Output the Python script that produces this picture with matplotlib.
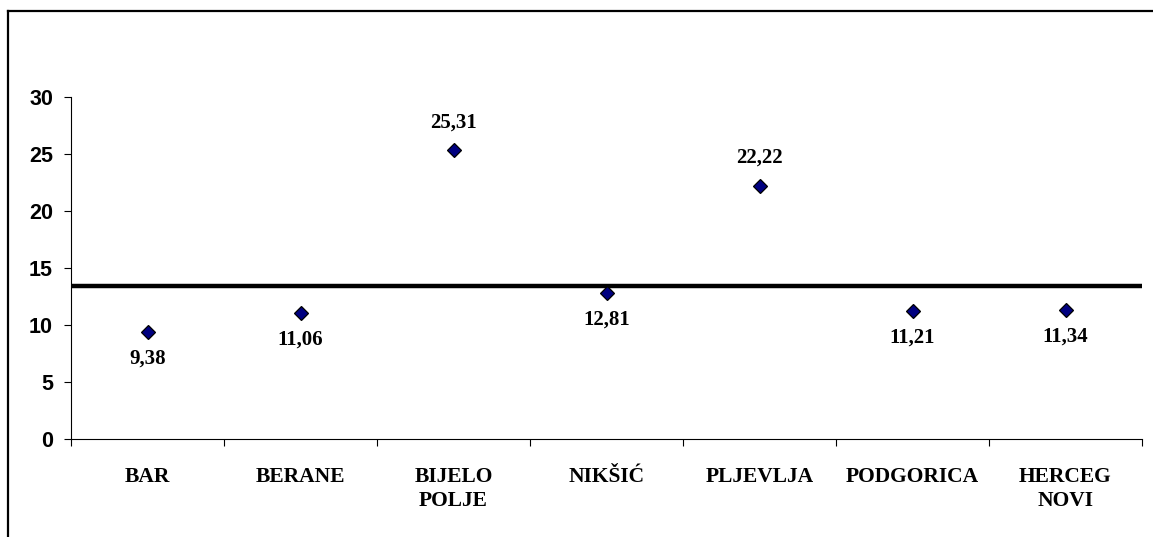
import matplotlib
matplotlib.use('Agg')
from matplotlib import pyplot as plt
from matplotlib.lines import Line2D

gradovi = ['BAR', 'BERANE', 'BIJELO\nPOLJE', 'NIKŠIĆ', 'PLJEVLJA', 'PODGORICA', 'HERCEG\nNOVI']
vrijednosti = [9.38, 11.06, 25.31, 12.81, 22.22, 11.21, 11.34]
iznad = [False, False, True, False, True, False, False]
prosjek = 13.45
y_ticks = [0, 5, 10, 15, 20, 25, 30]

fig = plt.figure(dpi=100, figsize=(11.53, 5.37))
ax = fig.add_axes([71/1153, 1-439/537, (1142-71)/1153, (439-97)/537])

x = [i + 0.5 for i in range(len(gradovi))]
ax.axhline(prosjek, color='black', lw=3.2, zorder=2)
ax.plot(x, vrijednosti, ls='none', marker='D', ms=7.5, mfc='#000080', mec='black', mew=0.9, zorder=3)

for xi, v, up in zip(x, vrijednosti, iznad):
    txt = ('%.2f' % v).replace('.', ',')
    off = 20 if up else -19
    ax.annotate(txt, (xi, v), xytext=(0, off), textcoords='offset points',
                ha='center', va='center', fontsize=15, fontweight='bold',
                family='Liberation Serif')

ax.set_xlim(0, len(gradovi))
ax.set_ylim(0, 30)
ax.set_yticks(y_ticks)
ax.set_yticklabels([str(t) for t in y_ticks], fontsize=15.5, fontweight='bold', family='Liberation Sans')
ax.set_xticks(range(len(gradovi) + 1))
ax.set_xticklabels([])
ax.set_xticks(x, minor=True)
ax.set_xticklabels(gradovi, minor=True, fontsize=15.5, fontweight='bold',
                   family='Liberation Serif', linespacing=1.3)
ax.tick_params(axis='x', which='minor', length=0, pad=20)
ax.tick_params(axis='x', which='major', length=5, width=0.8, direction='out')
ax.tick_params(axis='y', length=5, width=0.8, direction='out', pad=8)
for s in ['top', 'right']:
    ax.spines[s].set_visible(False)
ax.spines['left'].set_linewidth(0.8)
ax.spines['bottom'].set_linewidth(0.8)

# okvir oko grafika
fig.add_artist(Line2D([8/1153, 1.0], [1-11/537, 1-11/537], color='black', lw=1.6))
fig.add_artist(Line2D([8/1153, 8/1153], [0, 1-11/537], color='black', lw=1.6))

fig.savefig('out.png', dpi=100)
